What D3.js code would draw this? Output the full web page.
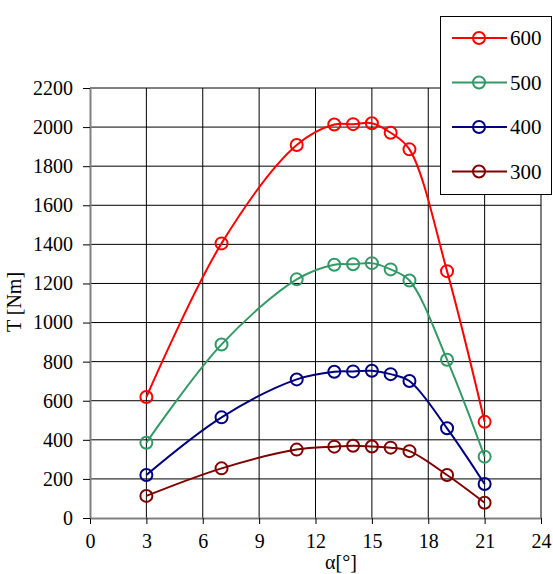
<!DOCTYPE html>
<html>
<head>
<meta charset="utf-8">
<script src="https://cdn.jsdelivr.net/npm/d3@7"></script>
<style>
  body { margin: 0; background: #fff; }
  svg text { font-family: "Liberation Serif", "Times New Roman", serif; fill: #000; }
</style>
</head>
<body>
<div id="chart"></div>
<script>
// Data
const angles = [3, 7, 11, 13, 14, 15, 16, 17, 19, 21];
const seriesNames = ['600', '500', '400', '300'];
const seriesColors = ['#ff0000', '#339966', '#000080', '#800000'];
const t600 = [619, 1405, 1908, 2013, 2015, 2020, 1971, 1886, 1263, 492];
const t500 = [385, 888, 1221, 1296, 1298, 1304, 1272, 1215, 810, 314];
const t400 = [220, 515, 709, 748, 750, 753, 736, 701, 459, 174];
const t300 = [113, 254, 350, 365, 370, 366, 360, 342, 220, 78];
const xTicks = [0, 3, 6, 9, 12, 15, 18, 21, 24];
const yTicks = [0, 200, 400, 600, 800, 1000, 1200, 1400, 1600, 1800, 2000, 2200];

const seriesValues = [t600, t500, t400, t300];

const W = 553, H = 574;
const margin = { top: 88, right: 12, bottom: 56, left: 90 };
const width = W - margin.left - margin.right;
const height = H - margin.top - margin.bottom;

const svg = d3.select('#chart')
    .append('svg')
    .attr('width', W)
    .attr('height', H);

const g = svg.append('g')
    .attr('transform', `translate(${margin.left},${margin.top})`);

const x = d3.scaleLinear().domain([0, 24]).range([0, width]);
const y = d3.scaleLinear().domain([0, 2200]).range([height, 0]);

// Grid lines
g.append('g')
    .selectAll('line')
    .data(xTicks.slice(1))
    .enter()
    .append('line')
    .attr('x1', d => x(d)).attr('x2', d => x(d))
    .attr('y1', 0).attr('y2', height)
    .attr('stroke', '#000')
    .attr('stroke-width', 1);

g.append('g')
    .selectAll('line')
    .data(yTicks.slice(1))
    .enter()
    .append('line')
    .attr('x1', 0).attr('x2', width)
    .attr('y1', d => y(d)).attr('y2', d => y(d))
    .attr('stroke', '#000')
    .attr('stroke-width', 1);

// Axes
const xAxis = g.append('g')
    .attr('transform', `translate(0,${height})`)
    .call(d3.axisBottom(x).tickValues(xTicks).tickFormat(d3.format('d'))
        .tickSize(6).tickPadding(10).tickSizeOuter(0));
xAxis.attr('font-family', null).attr('font-size', null);
xAxis.select('.domain').attr('stroke', '#808080').attr('stroke-width', 2);
xAxis.selectAll('.tick line').attr('stroke', '#000');
xAxis.selectAll('text')
    .style('font-size', '20px')
    .style('font-family', '"Liberation Serif", serif');

const yAxis = g.append('g')
    .call(d3.axisLeft(y).tickValues(yTicks).tickFormat(d3.format('d'))
        .tickSize(7).tickPadding(10).tickSizeOuter(0));
yAxis.attr('font-family', null).attr('font-size', null);
yAxis.select('.domain').attr('stroke', '#808080').attr('stroke-width', 2);
yAxis.selectAll('.tick line').attr('stroke', '#000');
yAxis.selectAll('text')
    .style('font-size', '20px')
    .style('font-family', '"Liberation Serif", serif');

// Axis titles
svg.append('text')
    .attr('x', 341)
    .attr('y', 569)
    .attr('text-anchor', 'middle')
    .style('font-size', '20px')
    .text('α[°]');

svg.append('text')
    .attr('transform', 'translate(21,302) rotate(-90)')
    .attr('text-anchor', 'middle')
    .style('font-size', '20px')
    .text('T [Nm]');

// Series
const line = d3.line()
    .x((d, i) => x(angles[i]))
    .y(d => y(d))
    .curve(d3.curveCatmullRom.alpha(0.5));

seriesValues.forEach((vals, s) => {
    const sg = g.append('g');
    sg.append('path')
        .datum(vals)
        .attr('d', line)
        .attr('fill', 'none')
        .attr('stroke', seriesColors[s])
        .attr('stroke-width', 2);
    sg.selectAll('circle')
        .data(vals)
        .enter()
        .append('circle')
        .attr('cx', (d, i) => x(angles[i]))
        .attr('cy', d => y(d))
        .attr('r', 6)
        .attr('fill', 'none')
        .attr('stroke', seriesColors[s])
        .attr('stroke-width', 2);
});

// Legend
const legend = svg.append('g').attr('transform', 'translate(440,16)');
legend.append('rect')
    .attr('x', 0.5).attr('y', 0.5)
    .attr('width', 111).attr('height', 178)
    .attr('fill', '#fff')
    .attr('stroke', '#000')
    .attr('stroke-width', 1);

seriesNames.forEach((name, s) => {
    const ly = 22 + s * 44.5;
    legend.append('line')
        .attr('x1', 12).attr('x2', 67)
        .attr('y1', ly).attr('y2', ly)
        .attr('stroke', seriesColors[s])
        .attr('stroke-width', 2);
    legend.append('circle')
        .attr('cx', 39).attr('cy', ly)
        .attr('r', 6)
        .attr('fill', 'none')
        .attr('stroke', seriesColors[s])
        .attr('stroke-width', 2);
    legend.append('text')
        .attr('x', 70)
        .attr('y', ly + 7)
        .style('font-size', '21px')
        .text(name);
});
</script>
</body>
</html>
